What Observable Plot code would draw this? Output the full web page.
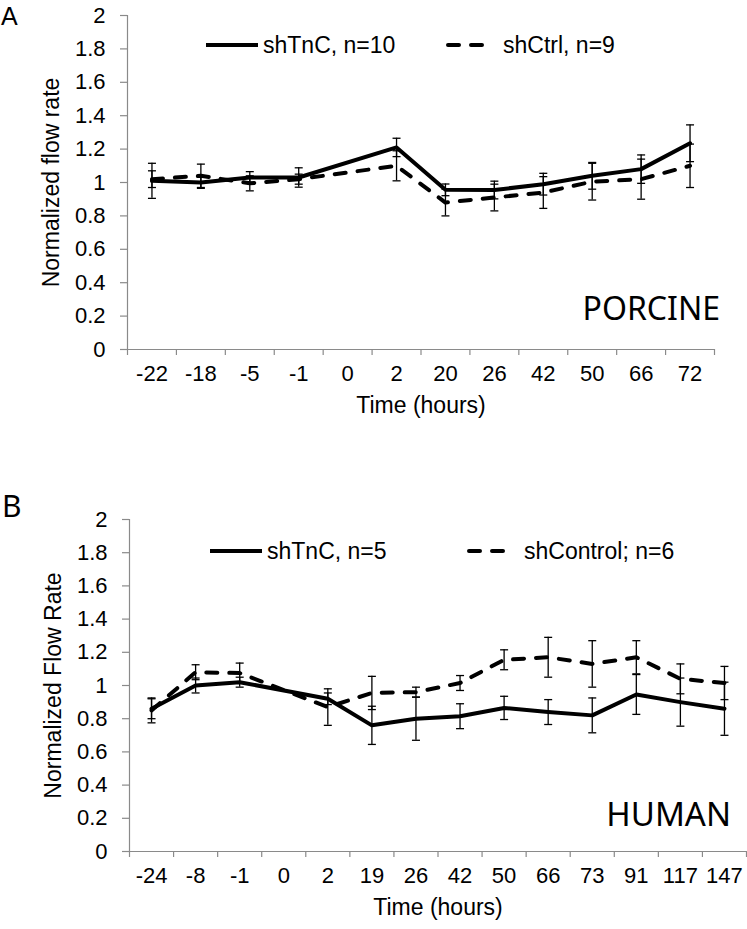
<!DOCTYPE html>
<html>
<head>
<meta charset="utf-8">
<script src="https://cdn.jsdelivr.net/npm/d3@7"></script>
<script src="https://cdn.jsdelivr.net/npm/@observablehq/plot@0.6"></script>
<style>
  html, body { margin: 0; padding: 0; background: #fff; }
  #wrap { position: relative; width: 747px; height: 929px; overflow: hidden; }
  #wrap > svg { position: absolute; left: 0; }
</style>
</head>
<body>
<div id="wrap"></div>
<script>
// ---------- Panel A (porcine) ----------
const catsA = ["-22","-18","-5","-1","0","2","20","26","42","50","66","72"];
const tncA     = [1.01, 1.00, 1.03, 1.03, null, 1.21, 0.956, 0.955, 0.99, 1.04, 1.08, 1.235];
const tncAErr  = [0.105, 0.035, 0.035, 0.058, null, 0.055, 0.035, 0.053, 0.065, 0.08, 0.085, 0.11];
const ctrlA    = [1.02, 1.04, 0.995, 1.02, null, 1.10, 0.88, 0.91, 0.94, 1.005, 1.02, 1.10];
const ctrlAErr = [0.05, 0.07, 0.045, 0.03, null, 0.09, 0.08, 0.08, 0.095, 0.11, 0.12, 0.13];

// ---------- Panel B (human) ----------
const catsB = ["-24","-8","-1","0","2","19","26","42","50","66","73","91","117","147"];
const tncB     = [0.86, 1.00, 1.02, null, 0.92, 0.76, 0.80, 0.815, 0.865, 0.84, 0.82, 0.946, 0.90, 0.86];
const tncBErr  = [0.06, 0.045, 0.03, null, 0.035, 0.115, 0.13, 0.075, 0.07, 0.075, 0.105, 0.12, 0.145, 0.16];
const ctrlB    = [0.85, 1.08, 1.075, null, 0.87, 0.955, 0.96, 1.015, 1.155, 1.17, 1.13, 1.17, 1.04, 1.015];
const ctrlBErr = [0.075, 0.045, 0.06, null, 0.11, 0.10, 0.03, 0.045, 0.06, 0.12, 0.14, 0.10, 0.09, 0.10];

const yTicks = d3.ticks(0, 2, 10);
const gray = "#8a8a8a";
const font = "'Liberation Sans', Arial, sans-serif";

// horizontal error-bar cap drawn as a custom symbol
const cap = { draw(ctx, size) { const r = Math.sqrt(size / Math.PI); ctx.moveTo(-r, 0); ctx.lineTo(r, 0); } };

function rowsOf(vals, errs) {
  return vals.map((v, i) => ({ i, v, e: errs[i] })).filter(d => d.v != null);
}

function panel(cats, tnc, tncErr, ctrl, ctrlErr, yTitle, m) {
  const n = cats.length;
  const xDomain = [-0.5, n - 0.5];
  const boundaries = d3.range(n + 1).map(i => i - 0.5);
  const tRows = rowsOf(tnc, tncErr);
  const cRows = rowsOf(ctrl, ctrlErr);
  const all = tRows.concat(cRows);
  const catRows = cats.map((c, i) => ({ i, c }));
  return Plot.plot({
    width: 747, height: m.height,
    marginLeft: m.left, marginRight: m.right, marginTop: m.top, marginBottom: m.bottom,
    x: { type: "linear", domain: xDomain },
    y: { domain: [0, 2] },
    style: { fontFamily: font, fontSize: "22px", color: "black", background: "transparent", overflow: "visible" },
    marks: [
      Plot.ruleX([xDomain[0]], { stroke: gray, strokeWidth: 1.2 }),
      Plot.ruleY([0], { stroke: gray, strokeWidth: 1.2 }),
      Plot.axisY({ ticks: yTicks, tickSize: 7, tickFormat: () => "", label: null, stroke: gray, strokeWidth: 1.2 }),
      Plot.axisY({ ticks: yTicks, tickSize: 0, tickPadding: 22, tickFormat: d => String(d), label: null, fontSize: 22 }),
      Plot.axisX({ ticks: boundaries, tickSize: 6, tickFormat: () => "", label: null, stroke: gray, strokeWidth: 1.2 }),
      Plot.text(catRows, { x: "i", text: "c", frameAnchor: "bottom", dy: 31, fontSize: 22 }),
      Plot.text(["Time (hours)"], { text: d => d, frameAnchor: "bottom", dy: 63, fontSize: 23 }),
      Plot.text([yTitle], { text: d => d, frameAnchor: "left", textAnchor: "middle", rotate: -90, dx: -76, fontSize: 23 }),
      Plot.ruleX(all, { x: "i", y1: d => d.v - d.e, y2: d => d.v + d.e, stroke: "black", strokeWidth: 1.3 }),
      Plot.dot(all, { x: "i", y: d => d.v + d.e, symbol: cap, r: 4, stroke: "black", strokeWidth: 1.3, fill: "none" }),
      Plot.dot(all, { x: "i", y: d => d.v - d.e, symbol: cap, r: 4, stroke: "black", strokeWidth: 1.3, fill: "none" }),
      Plot.lineY(cRows, { x: "i", y: "v", stroke: "black", strokeWidth: 4, strokeDasharray: "11,12", strokeLinecap: "round" }),
      Plot.lineY(tRows, { x: "i", y: "v", stroke: "black", strokeWidth: 4 })
    ]
  });
}

const wrap = document.getElementById("wrap");

const chartA = panel(catsA, tncA, tncAErr, ctrlA, ctrlAErr, "Normalized flow rate",
  { height: 440, left: 127, right: 33, top: 15, bottom: 91 });
chartA.style.top = "0px";
wrap.appendChild(chartA);

const chartB = panel(catsB, tncB, tncBErr, ctrlB, ctrlBErr, "Normalized Flow Rate",
  { height: 465, left: 129, right: 1, top: 55, bottom: 78 });
chartB.style.top = "464px";
wrap.appendChild(chartB);

// ---------- annotations: panel letters, species labels, legends ----------
const legA = [
  { label: "shTnC, n=10", dash: null, x1: 206, x2: 258, tx: 263, y: 45 },
  { label: "shCtrl, n=9", dash: "11,12", x1: 446, x2: 491, tx: 503, y: 45 }
];
const legB = [
  { label: "shTnC, n=5", dash: null, x1: 210, x2: 262, tx: 267, y: 551 },
  { label: "shControl; n=6", dash: "11,12", x1: 467, x2: 512, tx: 524, y: 551 }
];
const ns = "http://www.w3.org/2000/svg";
const ov = document.createElementNS(ns, "svg");
ov.setAttribute("width", 747); ov.setAttribute("height", 929);
ov.style.top = "0px"; ov.style.position = "absolute"; ov.style.pointerEvents = "none";
function addText(t, x, y, size, fam, anchor) {
  const el = document.createElementNS(ns, "text");
  el.setAttribute("x", x); el.setAttribute("y", y);
  el.setAttribute("font-size", size); el.setAttribute("font-family", fam);
  el.setAttribute("text-anchor", anchor || "start");
  el.setAttribute("dominant-baseline", "central");
  el.setAttribute("fill", "black");
  el.textContent = t; ov.appendChild(el);
}
function addLine(x1, x2, y, dash) {
  const el = document.createElementNS(ns, "line");
  el.setAttribute("x1", x1); el.setAttribute("x2", x2);
  el.setAttribute("y1", y); el.setAttribute("y2", y);
  el.setAttribute("stroke", "black"); el.setAttribute("stroke-width", 4);
  if (dash) { el.setAttribute("stroke-dasharray", dash); el.setAttribute("stroke-linecap", "round"); }
  ov.appendChild(el);
}
for (const L of legA.concat(legB)) {
  addLine(L.dash ? L.x1 + 2 : L.x1, L.dash ? L.x2 - 2 : L.x2, L.y, L.dash);
  addText(L.label, L.tx, L.y, 23, font);
}
addText("A", 1, 16, 25, font);
addText("B", 2, 505, 30, "'Noto Sans', sans-serif");
addText("PORCINE", 720, 307, 32, "'Noto Sans', sans-serif", "end");
addText("HUMAN", 731, 813, 33, "'Noto Sans', sans-serif", "end");
wrap.appendChild(ov);
</script>
</body>
</html>
